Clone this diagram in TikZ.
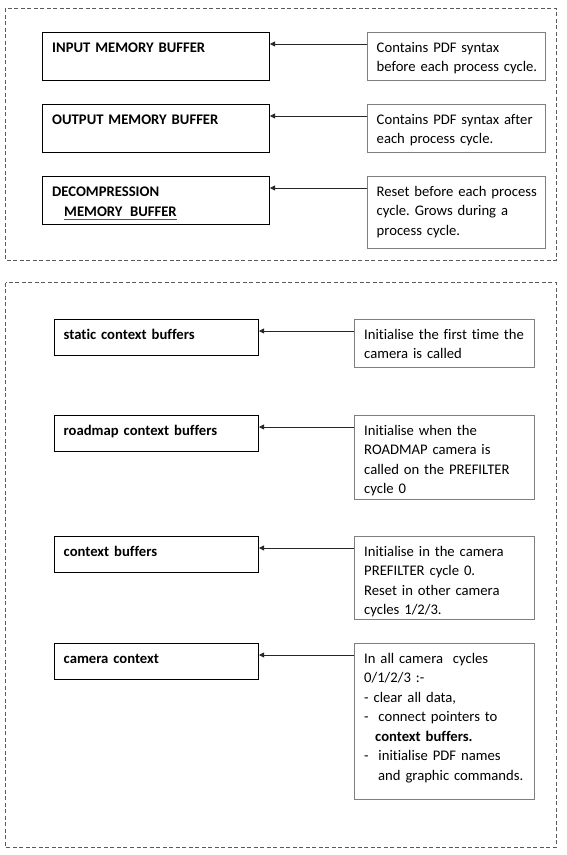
\documentclass[tikz,border=0pt]{standalone}
\usepackage{fontspec}
\setmainfont[Ligatures=NoCommon]{Carlito}
\usetikzlibrary{arrows.meta}
\definecolor{notegray}{RGB}{127,127,127}
\definecolor{framegray}{RGB}{90,90,90}
\definecolor{ulblue}{RGB}{47,85,151}
\newcommand{\blueline}[1]{\setbox0=\hbox{#1}\rlap{\textcolor{ulblue}{\rule[-3.5pt]{\wd0}{1pt}}}\box0}
\frenchspacing
\begin{document}
\begin{tikzpicture}[x=1pt,y=-1pt,
    frame/.style={draw=framegray,line width=0.9pt,dash pattern=on 4pt off 2.5pt},
    buf/.style={draw=black,line width=1pt,anchor=north west,inner sep=0pt},
    note/.style={draw=notegray,line width=1pt,anchor=north west,inner sep=0pt},
    txt/.style={anchor=base west,inner sep=0pt,align=left,text width=#1,
      font=\fontsize{14.67pt}{19.5pt}\selectfont},
    arr/.style={-{Triangle[length=5pt,width=5pt]},line width=0.8pt,draw=black!85}]
  \useasboundingbox (0,0) rectangle (567,855);
  % memory buffers
  \draw[frame] (5.5,8) rectangle (556,260);
    \node[buf,minimum width=227pt,minimum height=48pt] at (42,32) (inbuf) {};
    \node[buf,minimum width=227pt,minimum height=48pt] at (42,104) (outbuf) {};
    \node[buf,minimum width=227pt,minimum height=48pt] at (42,176) (decbuf) {};
    \node[txt=215pt] at ([xshift=10pt,yshift=-20.5pt]inbuf.north west) (inbuf-t) {\textbf{INPUT MEMORY BUFFER}};
    \node[txt=215pt] at ([xshift=10pt,yshift=-20.5pt]outbuf.north west) (outbuf-t) {\textbf{OUTPUT MEMORY BUFFER}};
    \node[txt=215pt] at ([xshift=10pt,yshift=-20.5pt]decbuf.north west) (decbuf-t)
      {\textbf{DECOMPRESSION}\\\hspace*{12pt}\textbf{\blueline{MEMORY\hspace{7.5pt}BUFFER}}};
    \node[note,minimum width=178pt,minimum height=48pt] at (367,32) (inbuf-note) {};
    \node[note,minimum width=178pt,minimum height=48pt] at (367,104) (outbuf-note) {};
    \node[note,minimum width=178pt,minimum height=72pt] at (367,176) (decbuf-note) {};
    \node[txt=168pt] at ([xshift=9.5pt,yshift=-20pt]inbuf-note.north west) (inbuf-nt)
      {Contains PDF syntax\\before each process cycle.};
    \node[txt=168pt] at ([xshift=9.5pt,yshift=-20pt]outbuf-note.north west) (outbuf-nt)
      {Contains PDF syntax after\\each process cycle.};
    \node[txt=168pt] at ([xshift=9.5pt,yshift=-20pt]decbuf-note.north west) (decbuf-nt)
      {Reset before each process\\cycle. Grows during a\\process cycle.};
  % context buffers
  \draw[frame] (5.5,282.5) rectangle (556,847);
    \node[buf,minimum width=204pt,minimum height=36pt] at (54,319) (statbuf) {};
    \node[buf,minimum width=204pt,minimum height=36pt] at (54,415) (roadbuf) {};
    \node[buf,minimum width=204pt,minimum height=36pt] at (54,536) (ctxbuf) {};
    \node[buf,minimum width=204pt,minimum height=36pt] at (54,643) (camctx) {};
    \node[txt=190pt] at ([xshift=9.5pt,yshift=-20pt]statbuf.north west) (statbuf-t) {\textbf{static context buffers}};
    \node[txt=190pt] at ([xshift=9.5pt,yshift=-20pt]roadbuf.north west) (roadbuf-t) {\textbf{roadmap context buffers}};
    \node[txt=190pt] at ([xshift=9.5pt,yshift=-20pt]ctxbuf.north west) (ctxbuf-t) {\textbf{context buffers}};
    \node[txt=190pt] at ([xshift=9.5pt,yshift=-20pt]camctx.north west) (camctx-t) {\textbf{camera context}};
    \node[note,minimum width=180pt,minimum height=48pt] at (354,319) (statbuf-note) {};
    \node[note,minimum width=180pt,minimum height=84pt] at (354,415) (roadbuf-note) {};
    \node[note,minimum width=180pt,minimum height=83pt] at (354,536) (ctxbuf-note) {};
    \node[note,minimum width=180pt,minimum height=156pt] at (354,643) (camctx-note) {};
    \node[txt=170pt] at ([xshift=10pt,yshift=-20pt]statbuf-note.north west) (statbuf-nt)
      {Initialise the first time the\\camera is called};
    \node[txt=170pt] at ([xshift=10pt,yshift=-20pt]roadbuf-note.north west) (roadbuf-nt)
      {Initialise when the\\ROADMAP camera is\\called on the PREFILTER\\cycle 0};
    \node[txt=170pt] at ([xshift=10pt,yshift=-20pt]ctxbuf-note.north west) (ctxbuf-nt)
      {Initialise in the camera\\PREFILTER cycle 0.\\Reset in other camera\\cycles 1/2/3.};
    \node[txt=170pt] at ([xshift=10pt,yshift=-20pt]camctx-note.north west) (camctx-nt)
      {In all camera~ cycles\\0/1/2/3 :-\\- clear all data,\\-~~connect pointers to\\\hspace*{11pt}\textbf{context buffers.}\\-~~initialise PDF names\\\hspace*{14pt}and graphic commands.};
  \foreach \n in {inbuf,outbuf,decbuf,statbuf,roadbuf,ctxbuf,camctx}{
    \draw[arr] ([yshift=-12pt]\n-note.north west) -- ([yshift=-12pt]\n.north east);
  }
\end{tikzpicture}
\end{document}
